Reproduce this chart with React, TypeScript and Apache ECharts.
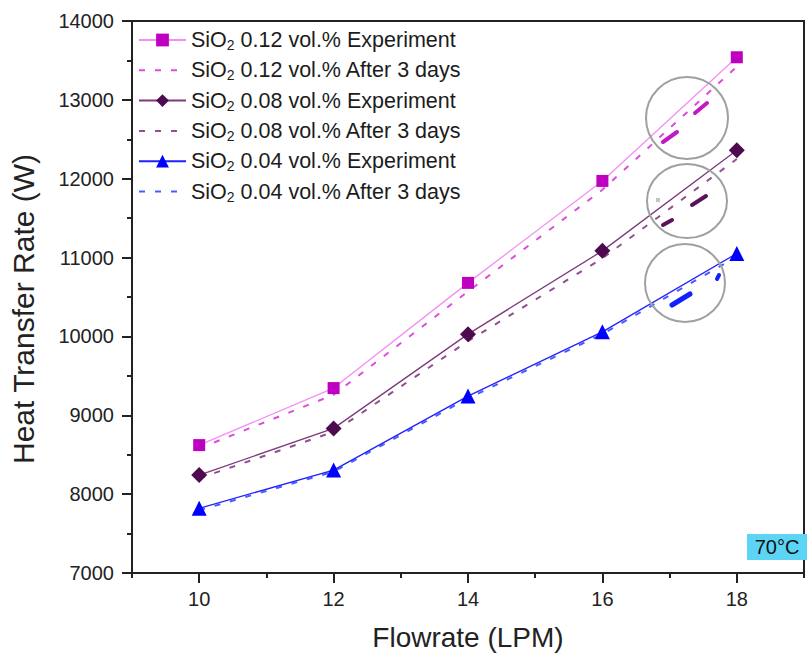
import React, { useEffect, useRef } from "react";
import * as echarts from "echarts";

const flowrates = [10, 12, 14, 16, 18];
const exp012 = [8622, 9345, 10679, 11972, 13540];
const day3012 = [8580, 9260, 10570, 11860, 13420];
const exp008 = [8242, 8834, 10029, 11085, 12361];
const day3008 = [8200, 8790, 9940, 10990, 12250];
const exp004 = [7820, 8305, 9243, 10058, 11052];
const day3004 = [7795, 8285, 9215, 10030, 11010];
const xTickCats = ["9", "10", "11", "12", "13", "14", "15", "16", "17", "18", "19"];

const names = [
  "SiO2 0.12 vol.% Experiment",
  "SiO2 0.12 vol.% After 3 days",
  "SiO2 0.08 vol.% Experiment",
  "SiO2 0.08 vol.% After 3 days",
  "SiO2 0.04 vol.% Experiment",
  "SiO2 0.04 vol.% After 3 days",
];

const FONT = "'Liberation Sans', Arial, sans-serif";

function pairs(vals: number[]) {
  return flowrates.map((x, i) => [x, vals[i]]);
}

export default function App() {
  const ref = useRef<HTMLDivElement>(null);
  useEffect(() => {
    if (!ref.current) return;
    const chart = echarts.init(ref.current, null, { renderer: "svg" });
    const dash = [6, 10];
    const expSeries = (name: string, vals: number[], lineColor: string, markColor: string, symbol: string, size: number) => ({
      name,
      type: "line",
      data: pairs(vals),
      symbol,
      symbolSize: size,
      lineStyle: { color: lineColor, width: 1.3, type: "solid" },
      itemStyle: { color: markColor },
      z: 3,
    });
    const dashSeries = (name: string, vals: number[], color: string) => ({
      name,
      type: "line",
      data: pairs(vals),
      symbol: "circle",
      showSymbol: false,
      lineStyle: { color, width: 2, type: dash },
      itemStyle: { color: "rgba(0,0,0,0)", borderWidth: 0 },
      z: 2,
    });
    const option: any = {
      animation: false,
      backgroundColor: "#ffffff",
      textStyle: { fontFamily: FONT },
      grid: {
        left: 131,
        right: -6,
        top: 21,
        bottom: 87,
        show: true,
        borderColor: "#222",
        borderWidth: 2,
        backgroundColor: "transparent",
      },
      legend: {
        orient: "vertical",
        left: 138,
        top: 28,
        padding: 0,
        itemWidth: 47,
        itemHeight: 16,
        itemGap: 6.3,
        data: names,
        formatter: (n: string) => n.replace("SiO2", "SiO{sub|2}"),
        textStyle: {
          fontFamily: FONT,
          fontSize: 21.5,
          color: "#1c1c1c",
          lineHeight: 24,
          rich: {
            sub: { fontSize: 14, lineHeight: 14, verticalAlign: "bottom", fontFamily: FONT, color: "#1c1c1c" },
          },
        },
      },
      xAxis: [
        {
          type: "value",
          min: 9,
          max: 19,
          interval: 1,
          name: "Flowrate (LPM)",
          nameLocation: "middle",
          nameGap: 50,
          nameTextStyle: { fontSize: 28, color: "#222", fontFamily: FONT },
          axisLine: { show: true, lineStyle: { color: "#222", width: 2 } },
          axisTick: { show: true, length: 5, lineStyle: { color: "#222", width: 2 } },
          axisLabel: {
            margin: 16,
            fontSize: 20,
            color: "#222",
            fontFamily: FONT,
            formatter: (v: number) => (v % 2 === 0 ? String(v) : ""),
          },
          splitLine: { show: false },
        },
        {
          type: "category",
          data: xTickCats,
          boundaryGap: false,
          position: "bottom",
          offset: 0,
          axisLine: { show: false },
          axisTick: {
            show: true,
            length: 10,
            interval: (i: number) => i % 2 === 1,
            lineStyle: { color: "#222", width: 2 },
          },
          axisLabel: { show: false },
          splitLine: { show: false },
        },
      ],
      yAxis: {
        type: "value",
        min: 7000,
        max: 14000,
        interval: 1000,
        name: "Heat Transfer Rate (W)",
        nameLocation: "middle",
        nameGap: 94,
        nameTextStyle: { fontSize: 30, color: "#222", fontFamily: FONT, padding: [0, 24, 0, 0] },
        axisLine: { show: true, lineStyle: { color: "#222", width: 2 } },
        axisTick: { show: true, length: 10, lineStyle: { color: "#222", width: 2 } },
        minorTick: { show: true, splitNumber: 2, length: 5, lineStyle: { color: "#222", width: 2 } },
        axisLabel: {
          margin: 18,
          fontSize: 20,
          color: "#222",
          fontFamily: FONT,
          formatter: (v: number) => String(v),
        },
        splitLine: { show: false },
      },
      series: [
        expSeries(names[0], exp012, "#f48ef4", "#c000c0", "rect", 12),
        dashSeries(names[1], day3012, "#dc4cdc"),
        expSeries(names[2], exp008, "#7c3a7c", "#4e0a4e", "diamond", 16),
        dashSeries(names[3], day3008, "#8e508e"),
        expSeries(names[4], exp004, "#2020ff", "#0000ff", "triangle", 15),
        dashSeries(names[5], day3004, "#4a5cff"),
      ],
      graphic: [
        { type: "ellipse", shape: { cx: 687, cy: 118, rx: 41, ry: 41 }, style: { fill: "none", stroke: "#a0a0a0", lineWidth: 2 }, z: 10 },
        { type: "ellipse", shape: { cx: 687, cy: 201, rx: 40, ry: 37 }, style: { fill: "none", stroke: "#a0a0a0", lineWidth: 2 }, z: 10 },
        { type: "ellipse", shape: { cx: 685, cy: 283, rx: 40, ry: 39 }, style: { fill: "none", stroke: "#a0a0a0", lineWidth: 2 }, z: 10 },
        { type: "line", shape: { x1: 663, y1: 142, x2: 677, y2: 132 }, style: { stroke: "#c21ac2", lineWidth: 4, lineCap: "round" }, z: 10 },
        { type: "line", shape: { x1: 695, y1: 113, x2: 707, y2: 103 }, style: { stroke: "#c21ac2", lineWidth: 4, lineCap: "round" }, z: 10 },
        { type: "line", shape: { x1: 663, y1: 225, x2: 672, y2: 220 }, style: { stroke: "#5a125a", lineWidth: 4, lineCap: "round" }, z: 10 },
        { type: "line", shape: { x1: 692, y1: 205, x2: 706, y2: 196 }, style: { stroke: "#5a125a", lineWidth: 4, lineCap: "round" }, z: 10 },
        { type: "rect", shape: { x: 656, y: 198, width: 4, height: 4 }, style: { fill: "#c4c4c4" }, z: 10 },
        { type: "line", shape: { x1: 672, y1: 305, x2: 690, y2: 294 }, style: { stroke: "#1020ff", lineWidth: 5, lineCap: "round" }, z: 10 },
        { type: "line", shape: { x1: 717, y1: 279, x2: 719, y2: 275 }, style: { stroke: "#1020ff", lineWidth: 4, lineCap: "round" }, z: 10 },
        { type: "rect", shape: { x: 747, y: 534, width: 60, height: 26 }, style: { fill: "#5cd5f5" }, z: 10 },
        {
          type: "text",
          x: 777,
          y: 547,
          style: { text: "70°C", fontSize: 20, fontFamily: FONT, fill: "#111", align: "center", verticalAlign: "middle" },
          z: 11,
        },
      ],
    };
    chart.setOption(option);
    return () => chart.dispose();
  }, []);
  return (
    <div
      ref={ref}
      style={{ position: "fixed", left: 0, top: 0, width: 807, height: 660, background: "#fff" }}
    />
  );
}
